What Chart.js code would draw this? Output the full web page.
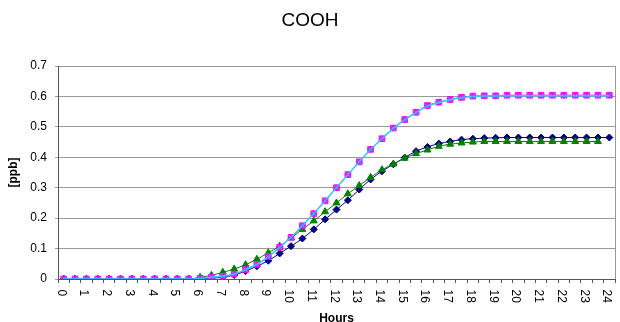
<!DOCTYPE html>
<html>
<head>
<meta charset="utf-8">
<script src="https://cdn.jsdelivr.net/npm/chart.js@4.4.0/dist/chart.umd.min.js"></script>
<style>
  html, body { margin: 0; padding: 0; background: #fff; }
</style>
</head>
<body>
<canvas id="grafico" width="620" height="322"></canvas>
<script>
// categorias (horas, de meia em meia hora)
const horas = [0, 0.5, 1, 1.5, 2, 2.5, 3, 3.5, 4, 4.5, 5, 5.5, 6, 6.5, 7, 7.5, 8, 8.5, 9, 9.5,
  10, 10.5, 11, 11.5, 12, 12.5, 13, 13.5, 14, 14.5, 15, 15.5, 16, 16.5, 17, 17.5, 18, 18.5, 19, 19.5,
  20, 20.5, 21, 21.5, 22, 22.5, 23, 23.5, 24];

// séries [ppb]
const serieAzul = [0, 0, 0, 0, 0, 0, 0, 0, 0, 0, 0, 0, 0.001, 0.003, 0.006, 0.013, 0.026, 0.042, 0.060, 0.084,
  0.108, 0.133, 0.163, 0.196, 0.228, 0.259, 0.294, 0.327, 0.354, 0.377, 0.399, 0.420, 0.434, 0.445, 0.452, 0.458, 0.461, 0.463, 0.464, 0.465,
  0.465, 0.465, 0.465, 0.465, 0.465, 0.465, 0.465, 0.465, 0.465];
const serieMagenta = [0, 0, 0, 0, 0, 0, 0, 0, 0, 0, 0, 0, 0.002, 0.006, 0.009, 0.016, 0.031, 0.048, 0.074, 0.104,
  0.137, 0.175, 0.215, 0.257, 0.300, 0.343, 0.385, 0.426, 0.461, 0.496, 0.524, 0.548, 0.570, 0.581, 0.590, 0.597, 0.601, 0.602, 0.602, 0.604,
  0.604, 0.604, 0.604, 0.604, 0.604, 0.604, 0.604, 0.604, 0.604];
const serieVerde = [0, 0, 0, 0, 0, 0, 0, 0, 0, 0, 0, 0, 0.006, 0.012, 0.022, 0.033, 0.047, 0.065, 0.086, 0.108,
  0.135, 0.163, 0.191, 0.221, 0.250, 0.280, 0.307, 0.334, 0.359, 0.378, 0.397, 0.412, 0.424, 0.436, 0.443, 0.447, 0.450, 0.452, 0.452, 0.452,
  0.452, 0.452, 0.452, 0.452, 0.452, 0.452, 0.452, 0.452, null];
const serieCiano = [0, 0, 0, 0, 0, 0, 0, 0, 0, 0, 0, 0, 0.002, 0.006, 0.009, 0.016, 0.031, 0.048, 0.073, 0.104,
  0.137, 0.175, 0.215, 0.257, 0.300, 0.343, 0.385, 0.426, 0.461, 0.495, 0.523, 0.547, 0.568, 0.580, 0.589, 0.596, 0.600, 0.601, 0.601, 0.602,
  0.602, 0.602, 0.602, 0.602, 0.602, 0.602, 0.602, 0.602, 0.602];

const fonte = "'Liberation Sans', Arial, sans-serif";

// título e rótulos do eixo x girados (lendo de cima para baixo)
const desenhoExtra = {
  id: 'desenhoExtra',
  afterDraw(chart) {
    const ctx = chart.ctx;
    const area = chart.chartArea;
    const escalaX = chart.scales.x;
    ctx.save();
    // borda direita da área do gráfico
    ctx.strokeStyle = '#999999';
    ctx.lineWidth = 1;
    ctx.beginPath();
    ctx.moveTo(area.right + 0.5, area.top);
    ctx.lineTo(area.right + 0.5, area.bottom);
    ctx.stroke();

    ctx.fillStyle = '#000';
    ctx.font = '19px ' + fonte;
    ctx.textAlign = 'center';
    ctx.textBaseline = 'middle';
    ctx.fillText('COOH', chart.width / 2, 21);

    ctx.font = '12px ' + fonte;
    ctx.textAlign = 'left';
    ctx.textBaseline = 'alphabetic';
    horas.forEach((h, i) => {
      if (h % 1 !== 0) return;
      const x = escalaX.getPixelForValue(i);
      ctx.save();
      ctx.translate(x - 6, 289.5);
      ctx.rotate(Math.PI / 2);
      ctx.fillText(String(h), 0, 0);
      ctx.restore();
    });
    ctx.restore();
  }
};

new Chart('grafico', {
  type: 'line',
  data: {
    labels: horas.map(String),
    datasets: [
      {
        data: serieCiano, borderColor: '#33ccff', backgroundColor: '#33ccff', borderWidth: 1.5,
        pointStyle: 'crossRot', pointRadius: 3.5, pointBorderWidth: 1, pointBorderColor: '#22bbee'
      },
      {
        data: serieMagenta, borderColor: '#ff00ff', backgroundColor: '#ff00ff', borderWidth: 1,
        pointStyle: 'rect', pointRadius: 4, pointBorderWidth: 1
      },
      {
        data: serieVerde, borderColor: '#008000', backgroundColor: '#008000', borderWidth: 1,
        pointStyle: 'triangle', pointRadius: 4, pointBorderWidth: 1
      },
      {
        data: serieAzul, borderColor: '#000080', backgroundColor: '#000080', borderWidth: 1,
        pointStyle: 'rectRot', pointRadius: 3.5, pointBorderWidth: 1
      }
    ]
  },
  options: {
    responsive: false,
    animation: false,
    devicePixelRatio: 1,
    layout: { padding: { top: 66, right: 1, left: 0, bottom: 0 } },
    elements: { line: { cubicInterpolationMode: 'monotone' } },
    plugins: {
      legend: { display: false },
      title: { display: false },
      tooltip: { enabled: false }
    },
    scales: {
      x: {
        offset: true,
        grid: { offset: true, drawOnChartArea: false, drawTicks: true, tickLength: 4, color: '#555555' },
        border: { color: '#555555' },
        ticks: { display: false, autoSkip: false },
        title: {
          display: true, text: 'Hours', color: '#000', padding: { top: 0, bottom: -3 },
          font: { family: fonte, size: 12, weight: 'bold', lineHeight: 1 }
        },
        afterFit: (s) => { s.height = 43; }
      },
      y: {
        min: 0, max: 0.7,
        ticks: {
          stepSize: 0.1, padding: 8, color: '#000',
          font: { family: fonte, size: 12 },
          callback: (v) => String(+v.toFixed(1))
        },
        grid: { color: '#999999', tickLength: 3 },
        border: { color: '#555555' },
        title: {
          display: true, text: '[ppb]', color: '#000', padding: { top: 6, bottom: 0 },
          font: { family: fonte, size: 12, weight: 'bold' }
        },
        afterFit: (s) => { s.width = 58; }
      }
    }
  },
  plugins: [desenhoExtra]
});
</script>
</body>
</html>
